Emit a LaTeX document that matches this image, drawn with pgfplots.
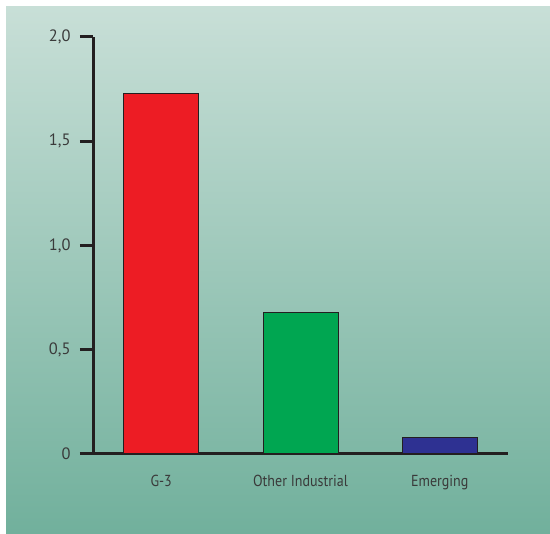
\documentclass[border=0pt]{standalone}
\usepackage{pgfplots}
\pgfplotsset{compat=1.18}
\usepackage{fontspec}
\setmainfont{PT Sans}[FakeStretch=0.88]
\newfontfamily\tickfont{PT Sans}
\definecolor{bgtop}{HTML}{C8DFD7}
\definecolor{bgbot}{HTML}{71B09C}
\definecolor{axisdark}{HTML}{231F20}
\definecolor{labelgrey}{HTML}{3A3A3A}
\definecolor{barred}{HTML}{ED1C24}
\definecolor{bargreen}{HTML}{00A651}
\definecolor{barblue}{HTML}{2E3192}
\begin{document}
\begin{tikzpicture}[x=1bp,y=1bp]
% page frame and shaded panel
\fill[white] (0,0) rectangle (550,534);
\shade[top color=bgtop, bottom color=bgbot] (6,0) rectangle (550,527);
\begin{axis}[
  at={(93bp,80bp)}, anchor=south west,
  scale only axis, width=415bp, height=417bp,
  xmin=-0.49, xmax=2.49, ymin=0, ymax=2,
  axis x line=bottom, axis y line=left,
  axis line style={-, line width=3bp, color=axisdark},
  xtick={0,1,2},
  xticklabels={G-3, Other Industrial, Emerging},
  ytick={0,0.5,1,1.5,2},
  yticklabels={0,{0,5},{1,0},{1,5},{2,0}},
  /pgf/number format/assume math mode=true,
  tick align=outside,
  major tick length=13bp,
  ytick style={line width=3bp, color=axisdark},
  xtick style={draw=none},
  xticklabel style={font=\fontsize{16}{19}\selectfont, text=labelgrey, yshift=-5bp},
  yticklabel style={font=\tickfont\fontsize{16.5}{19}\selectfont, text=labelgrey, xshift=-6bp},
  ybar, bar width=75bp, bar shift=0pt,
  clip=false,
]
\addplot[fill=barred, draw=axisdark, line width=1bp] coordinates {(0,1.73)};
\addplot[fill=bargreen, draw=axisdark, line width=1bp] coordinates {(1,0.68)};
\addplot[fill=barblue, draw=axisdark, line width=1bp] coordinates {(2,0.08)};
\end{axis}
\end{tikzpicture}
\end{document}
